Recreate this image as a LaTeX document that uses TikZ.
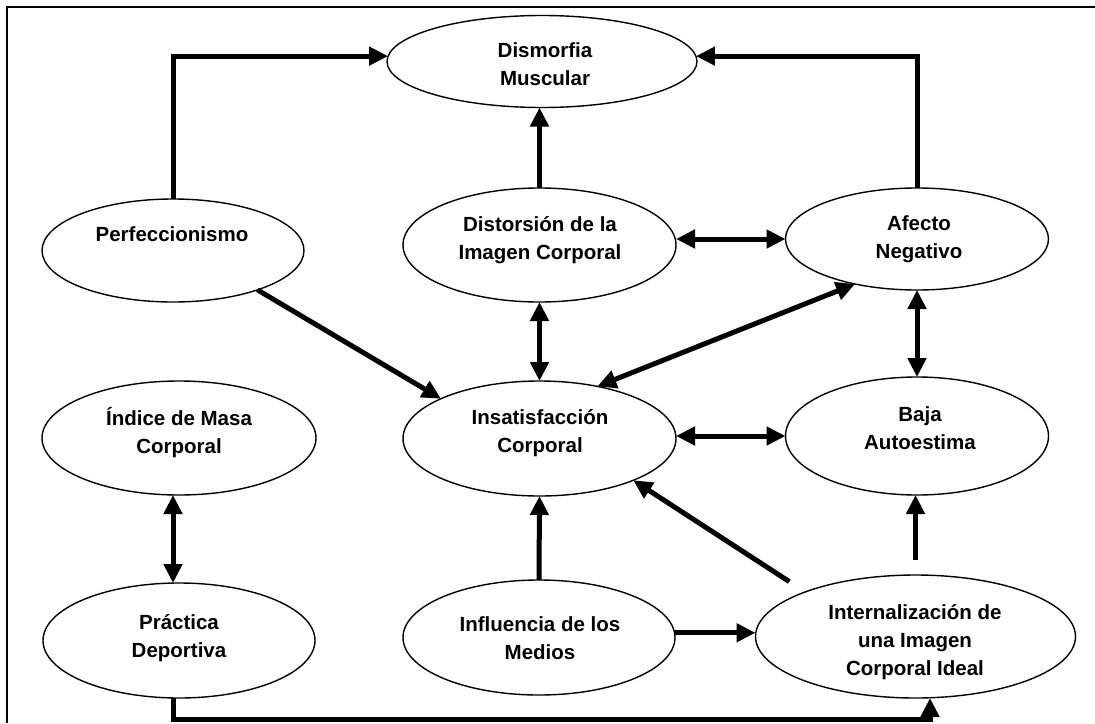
\documentclass[tikz,border=0pt]{standalone}
\usepackage{fontspec}
\setmainfont{Liberation Sans}
\usetikzlibrary{arrows.meta,shapes.geometric,calc}
\tikzset{
  ell/.style={draw, ellipse, line width=1.4pt, inner sep=0pt, outer sep=0pt},
  txt/.style={font=\bfseries\fontsize{20.5}{28}\selectfont, align=center, inner sep=0pt},
  arr/.style={line width=5pt, -{Triangle[length=19pt,width=18pt]}},
  darr/.style={line width=5pt, {Triangle[length=19pt,width=18pt]}-{Triangle[length=19pt,width=18pt]}},
  frame/.style={line width=1.2pt}
}
\begin{document}
\begin{tikzpicture}[x=1pt,y=-1pt]
\useasboundingbox (0,0) rectangle (1095,723);
\fill[white] (0,0) rectangle (1095,723);
\draw[frame] (7,723) -- (7,7) -- (1095,7);

% ellipses
\node[ell, minimum width=310pt, minimum height=92pt]  (dis)  at (542,61.5) {};
\node[ell, minimum width=262pt, minimum height=103pt] (perf) at (173,250.5) {};
\node[ell, minimum width=273pt, minimum height=114pt] (dist) at (539.5,245) {};
\node[ell, minimum width=263pt, minimum height=102pt] (afe)  at (917,239) {};
\node[ell, minimum width=274pt, minimum height=114pt] (ind)  at (179,438) {};
\node[ell, minimum width=273pt, minimum height=115pt] (ins)  at (539.5,438.5) {};
\node[ell, minimum width=263pt, minimum height=118pt] (baja) at (917,436) {};
\node[ell, minimum width=272pt, minimum height=115pt] (prac) at (179,640.5) {};
\node[ell, minimum width=272pt, minimum height=115pt] (inf)  at (539,637.5) {};
\node[ell, minimum width=320pt, minimum height=123pt] (int)  at (915.5,636.5) {};

% texts
\node[txt] (tdis)  at (545,64)  {Dismorfia\\Muscular};
\node[txt] (tperf) at (172,234) {Perfeccionismo};
\node[txt] (tdist) at (540,240) {Distorsión de la\\Imagen Corporal};
\node[txt] (tafe)  at (919,239) {Afecto\\Negativo};
\node[txt] (tind)  at (179,433) {Índice de Masa\\Corporal};
\node[txt] (tins)  at (540,433) {Insatisfacción\\Corporal};
\node[txt] (tbaja) at (920,428) {Baja\\Autoestima};
\node[txt] (tprac) at (179,638) {Práctica\\Deportiva};
\node[txt] (tinf)  at (540,638) {Influencia de los\\Medios};
\node[txt] (tint)  at (915,642) {Internalización de\\una Imagen\\Corporal Ideal};

% helper coordinates
\coordinate (bl) at (173,719.5);
\coordinate (br) at (930,719.5);

% connectors
\draw[arr] (perf.north) |- (dis.178);
\draw[arr] (afe.north) |- (dis.2);
\draw[arr] (dist.north) -- (dist.north |- dis.south);
\draw[darr] (afe.west -| dist.east) -- (afe.west);
\draw[arr] (perf.-25) -- (ins.158);
\draw[darr] (dist.south) -- (ins.north);
\draw[darr] (ins.42) -- (afe.216);
\draw[darr] (afe.south) -- (baja.north);
\draw[darr] (baja.west -| ins.east) -- (baja.west);
\draw[darr] (ind.south -| perf.north) -- (prac.north -| perf.north);
\draw[arr] (inf.north) -- (ins.south);
\draw[arr] (inf.2) -- (inf.2 -| int.west);
\draw[arr, shorten <=19pt] (int.158) -- (ins.-24);
\draw[arr, shorten <=15pt] (int.north) -- (int.north |- baja.south);
\draw[arr] (prac.south -| bl) -- (bl) -- (br) -- (br |- int.south);
\end{tikzpicture}
\end{document}
